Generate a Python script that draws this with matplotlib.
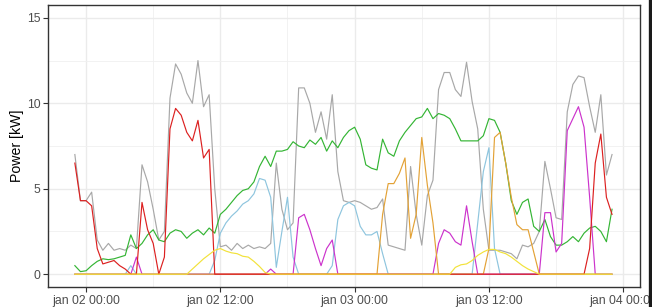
import numpy as np
import pandas as pd
import matplotlib
matplotlib.use("Agg")
import matplotlib.pyplot as plt
from matplotlib.lines import Line2D

plt.rcParams["font.family"] = ["Liberation Sans", "DejaVu Sans"]

# 30 min samples, jan 01 23:00 -> jan 03 23:00
times = pd.date_range("2020-01-01 23:00", periods=97, freq="30min")

total = [7.0, 4.3, 4.3, 4.8, 2.0, 1.4, 1.8, 1.4, 1.5, 1.4, 1.7, 1.5,
         6.4, 5.4, 3.8, 2.0, 2.5, 10.3, 12.3, 11.7, 10.6, 10.0, 12.5, 9.8,
         10.5, 5.0, 1.6, 1.7, 1.4, 1.8, 1.5, 1.7, 1.5, 1.6, 1.5, 1.8,
         6.5, 3.8, 2.6, 3.0, 10.9, 10.9, 10.0, 8.3, 9.5, 7.9, 10.5, 6.0,
         4.3, 4.2, 4.3, 4.2, 4.0, 3.8, 3.9, 4.4, 1.7, 1.6, 1.5, 1.4,
         6.3, 3.5, 1.7, 4.6, 5.5, 10.8, 11.8, 11.8, 10.8, 10.4, 12.4, 10.1,
         8.5, 3.8, 1.4, 1.4, 1.4, 1.3, 1.2, 0.9, 1.7, 1.6, 1.8, 2.5,
         6.6, 5.0, 3.3, 3.2, 9.5, 11.1, 11.6, 11.5, 9.8, 8.3, 10.5, 5.8,
         7.0]

red = [6.5, 4.3, 4.3, 4.0, 1.5, 0.6, 0.7, 0.8, 0.5, 0.3, 0.0, 0.0,
       4.2, 2.6, 1.8, 0.0, 1.0, 8.5, 9.7, 9.3, 8.3, 7.8, 9.0, 6.8,
       7.3, 0.0, 0.0, 0.0, 0.0, 0.0, 0.0, 0.0, 0.0, 0.0, 0.0, 0.0,
       0.0, 0.0, 0.0, 0.0, 0.0, 0.0, 0.0, 0.0, 0.0, 0.0, 0.0, 0.0,
       0.0, 0.0, 0.0, 0.0, 0.0, 0.0, 0.0, 0.0, 0.0, 0.0, 0.0, 0.0,
       0.0, 0.0, 0.0, 0.0, 0.0, 0.0, 0.0, 0.0, 0.0, 0.0, 0.0, 0.0,
       0.0, 0.0, 0.0, 0.0, 0.0, 0.0, 0.0, 0.0, 0.0, 0.0, 0.0, 0.0,
       0.0, 0.0, 0.0, 0.0, 0.0, 0.0, 0.0, 0.0, 1.5, 6.5, 8.2, 4.5,
       3.5]

green = [0.5, 0.15, 0.2, 0.5, 0.75, 0.9, 0.85, 0.9, 1.0, 1.1, 2.3, 1.5,
         1.8, 2.3, 2.6, 2.0, 1.9, 2.4, 2.6, 2.5, 2.1, 2.4, 2.6, 2.3,
         2.7, 2.4, 3.5, 3.8, 4.2, 4.6, 4.9, 5.0, 5.4, 6.3, 6.9, 6.3,
         7.2, 7.2, 7.3, 7.75, 7.5, 7.4, 7.85, 7.6, 8.0, 7.2, 7.8, 7.4,
         8.0, 8.4, 8.6, 7.9, 6.4, 6.2, 6.1, 7.9, 7.1, 6.9, 7.8, 8.3,
         8.7, 9.1, 9.2, 9.7, 9.1, 9.4, 9.3, 9.1, 8.5, 7.8, 7.8, 7.8,
         7.8, 8.1, 9.1, 9.0, 8.3, 6.5, 4.3, 3.5, 4.2, 4.4, 2.8, 2.5,
         3.2, 2.2, 1.7, 1.7, 1.9, 2.2, 1.9, 2.4, 2.7, 2.8, 2.5, 1.9,
         3.8]

blue = [0.0, 0.0, 0.0, 0.0, 0.0, 0.0, 0.0, 0.0, 0.0, 0.0, 0.5, 0.0,
        0.0, 0.0, 0.0, 0.0, 0.0, 0.0, 0.0, 0.0, 0.0, 0.0, 0.0, 0.0,
        0.0, 0.8, 2.4, 3.0, 3.4, 3.7, 4.1, 4.3, 4.7, 5.6, 5.5, 4.5,
        0.4, 2.5, 4.5, 1.0, 0.0, 0.0, 0.0, 0.0, 0.0, 0.0, 0.5, 3.2,
        4.0, 4.2, 4.0, 2.8, 2.3, 2.3, 2.5, 1.2, 0.0, 0.0, 0.0, 0.0,
        0.0, 0.0, 0.0, 0.0, 0.0, 0.0, 0.0, 0.0, 0.0, 0.0, 0.0, 0.0,
        3.0, 6.0, 7.4, 1.5, 0.0, 0.0, 0.0, 0.0, 0.0, 0.0, 0.0, 0.0,
        0.0, 0.0, 0.0, 0.0, 0.0, 0.0, 0.0, 0.0, 0.0, 0.0, 0.0, 0.0,
        0.0]

magenta = [0.0, 0.0, 0.0, 0.0, 0.0, 0.0, 0.0, 0.0, 0.0, 0.0, 0.0, 1.0,
           0.0, 0.0, 0.0, 0.0, 0.0, 0.0, 0.0, 0.0, 0.0, 0.0, 0.0, 0.0,
           0.0, 0.0, 0.0, 0.0, 0.0, 0.0, 0.0, 0.0, 0.0, 0.0, 0.0, 0.3,
           0.0, 0.0, 0.0, 0.0, 3.3, 3.5, 2.6, 1.5, 0.5, 1.5, 2.0, 0.0,
           0.0, 0.0, 0.0, 0.0, 0.0, 0.0, 0.0, 0.0, 0.0, 0.0, 0.0, 0.0,
           0.0, 0.0, 0.0, 0.0, 0.0, 1.8, 2.6, 2.4, 1.9, 1.7, 4.0, 1.9,
           0.0, 0.0, 0.0, 0.0, 0.0, 0.0, 0.0, 0.0, 0.0, 0.0, 0.0, 0.0,
           3.6, 3.6, 1.3, 1.8, 8.4, 9.1, 9.8, 8.6, 4.5, 0.0, 0.0, 0.0,
           0.0]

orange = [0.0, 0.0, 0.0, 0.0, 0.0, 0.0, 0.0, 0.0, 0.0, 0.0, 0.0, 0.0,
          0.0, 0.0, 0.0, 0.0, 0.0, 0.0, 0.0, 0.0, 0.0, 0.0, 0.0, 0.0,
          0.0, 0.0, 0.0, 0.0, 0.0, 0.0, 0.0, 0.0, 0.0, 0.0, 0.0, 0.0,
          0.0, 0.0, 0.0, 0.0, 0.0, 0.0, 0.0, 0.0, 0.0, 0.0, 0.0, 0.0,
          0.0, 0.0, 0.0, 0.0, 0.0, 0.0, 0.0, 3.5, 5.3, 5.3, 5.9, 6.8,
          2.1, 3.5, 8.0, 5.2, 3.0, 0.0, 0.0, 0.0, 0.0, 0.0, 0.0, 0.0,
          0.0, 0.0, 1.5, 8.0, 8.3, 6.5, 4.5, 2.9, 2.6, 2.6, 1.3, 0.0,
          0.0, 0.0, 0.0, 0.0, 0.0, 0.0, 0.0, 0.0, 0.0, 0.0, 0.0, 0.0,
          0.0]

yellow = [0.0, 0.0, 0.0, 0.0, 0.0, 0.0, 0.0, 0.0, 0.0, 0.0, 0.0, 0.0,
          0.0, 0.0, 0.0, 0.0, 0.0, 0.0, 0.0, 0.0, 0.0, 0.3, 0.6, 0.9,
          1.15, 1.4, 1.5, 1.35, 1.25, 1.2, 1.05, 1.0, 0.75, 0.45, 0.1, 0.0,
          0.0, 0.0, 0.0, 0.0, 0.0, 0.0, 0.0, 0.0, 0.0, 0.0, 0.0, 0.0,
          0.0, 0.0, 0.0, 0.0, 0.0, 0.0, 0.0, 0.0, 0.0, 0.0, 0.0, 0.0,
          0.0, 0.0, 0.0, 0.0, 0.0, 0.0, 0.0, 0.0, 0.4, 0.55, 0.6, 0.8,
          1.1, 1.3, 1.45, 1.45, 1.3, 1.2, 1.0, 0.75, 0.5, 0.3, 0.15, 0.0,
          0.0, 0.0, 0.0, 0.0, 0.0, 0.0, 0.0, 0.0, 0.0, 0.0, 0.0, 0.0,
          0.0]

tick_times = pd.to_datetime(["2020-01-02 00:00", "2020-01-02 12:00", "2020-01-03 00:00",
                             "2020-01-03 12:00", "2020-01-04 00:00"])
tick_labels = ["jan 02 00:00", "jan 02 12:00", "jan 03 00:00", "jan 03 12:00", "jan 04 00:00"]
minor_times = pd.to_datetime(["2020-01-02 06:00", "2020-01-02 18:00",
                              "2020-01-03 06:00", "2020-01-03 18:00"])

series = [
    (total, "#a8a8a8"),
    (green, "#34b534"),
    (blue, "#8ec5de"),
    (magenta, "#cc33cc"),
    (orange, "#e3a236"),
    (red, "#dc2020"),
    (yellow, "#f2e23a"),
]

fig = plt.figure(figsize=(6.52, 3.07), dpi=100)
ax = fig.add_axes([48 / 652, 20 / 307, 592 / 652, 282 / 307])

for values, color in series:
    assert len(values) == len(times)
    ax.plot(times, values, color=color, lw=0.85)

t0 = pd.Timestamp("2020-01-02 00:00")
ax.set_xlim(t0 - pd.Timedelta(hours=3.4), t0 + pd.Timedelta(hours=49.5))
ax.set_ylim(-0.75, 15.75)

ax.set_xticks(tick_times)
ax.set_xticklabels(tick_labels)
ax.set_xticks(minor_times, minor=True)
ax.set_yticks([0, 5, 10, 15])
ax.set_yticks([2.5, 7.5, 12.5], minor=True)

ax.set_axisbelow(True)
ax.grid(which="major", color="#ebebeb", lw=1.0)
ax.grid(which="minor", color="#f0f0f0", lw=0.6)

ax.tick_params(which="major", length=3.5, width=0.8, color="#333333",
               labelcolor="#4d4d4d", labelsize=8.8, pad=2)
ax.tick_params(which="minor", length=0)
for sp in ax.spines.values():
    sp.set_color("#333333")
    sp.set_linewidth(1.0)

ax.set_ylabel("Power [kW]", fontsize=10.2, color="black", labelpad=2)

# dark strip at the right edge of the screenshot
fig.add_artist(Line2D([650 / 652, 650 / 652], [0, 1], color="#1a1a1a", lw=2.4, zorder=10))

fig.savefig("out.png", dpi=100)
